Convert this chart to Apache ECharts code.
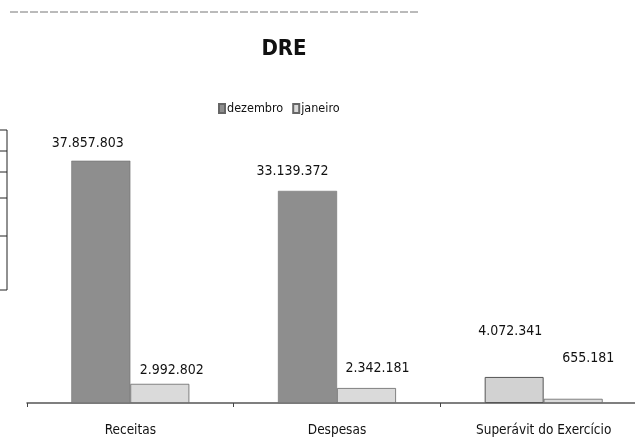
<!DOCTYPE html>
<html>
<head>
<meta charset="utf-8">
<script src="https://cdn.jsdelivr.net/npm/echarts@6/dist/echarts.min.js"></script>
<style>
  html, body { margin: 0; padding: 0; background: #fff; }
  #chart { width: 635px; height: 448px; }
</style>
</head>
<body>
<div id="chart"></div>
<script>
var categories = ['Receitas', 'Despesas', 'Superávit do Exercício']
var dezembro = [37857803, 33139372, 4072341]
var janeiro = [2992802, 2342181, 655181]

// labels in the original were dragged by hand, so nudge each one
var dezLabelShift = [[-13, -5], [-15, -8], [-4, -34]]
var janLabelShift = [[12, -1], [11, -8], [15, -28]]

function fmt(v) {
  return String(v).replace(/\B(?=(\d{3})+(?!\d))/g, '.')
}

var font = '"DejaVu Sans Condensed", "Liberation Sans", sans-serif'

var chart = echarts.init(document.getElementById('chart'))
chart.setOption({
  animation: false,
  title: {
    text: 'DRE',
    left: 279,
    top: 33,
    textAlign: 'center',
    textStyle: { fontFamily: font, fontWeight: 'bold', fontSize: 22, color: '#111' }
  },
  legend: {
    left: 213,
    top: 97,
    itemWidth: 6,
    itemHeight: 9,
    itemGap: 9,
    icon: 'rect',
    textStyle: { fontFamily: font, fontSize: 12.5, color: '#111', padding: [0, 0, 0, -3] },
    data: ['dezembro', 'janeiro']
  },
  grid: { left: 27, width: 620, top: 147, bottom: 45, outerBoundsMode: 'none', containLabel: false },
  xAxis: {
    type: 'category',
    data: categories,
    axisLine: { lineStyle: { color: '#555', width: 1.5 } },
    axisTick: { show: true, length: 4, lineStyle: { color: '#444' } },
    axisLabel: { interval: 0, margin: 20, fontFamily: font, fontSize: 13.5, color: '#111' }
  },
  yAxis: {
    type: 'value',
    min: 0,
    max: 40000000,
    show: false,
    splitLine: { show: false }
  },
  series: [
    {
      name: 'dezembro',
      type: 'bar',
      barWidth: 59,
      barGap: '0%',
      itemStyle: { color: '#8e8e8e', borderColor: '#666', borderWidth: 0.5 },
      label: {
        show: true,
        position: 'top',
        fontFamily: font,
        fontSize: 14,
        color: '#111',
        formatter: function (p) { return fmt(p.value) }
      },
      data: dezembro.map(function (v, i) {
        var item = { value: v, label: { offset: dezLabelShift[i] } }
        if (i === 2) item.itemStyle = { color: '#d2d2d2', borderColor: '#555', borderWidth: 1 }
        return item
      })
    },
    {
      name: 'janeiro',
      type: 'bar',
      barWidth: 59,
      itemStyle: { color: '#dadada', borderColor: '#666', borderWidth: 0.8 },
      label: {
        show: true,
        position: 'top',
        fontFamily: font,
        fontSize: 14,
        color: '#111',
        formatter: function (p) { return fmt(p.value) }
      },
      data: janeiro.map(function (v, i) {
        return { value: v, label: { offset: janLabelShift[i] } }
      })
    }
  ],
  graphic: [
    // scan remains: edge of a neighbouring table and the page rule on top
    { type: 'line', shape: { x1: 10, y1: 12, x2: 420, y2: 12 }, style: { stroke: '#777', lineWidth: 1, lineDash: [8, 2] } },
    { type: 'line', shape: { x1: 0, y1: 130, x2: 7, y2: 130 }, style: { stroke: '#222', lineWidth: 1 } },
    { type: 'line', shape: { x1: 0, y1: 151, x2: 7, y2: 151 }, style: { stroke: '#222', lineWidth: 1 } },
    { type: 'line', shape: { x1: 0, y1: 172, x2: 7, y2: 172 }, style: { stroke: '#222', lineWidth: 1 } },
    { type: 'line', shape: { x1: 0, y1: 198, x2: 7, y2: 198 }, style: { stroke: '#222', lineWidth: 1 } },
    { type: 'line', shape: { x1: 0, y1: 236, x2: 7, y2: 236 }, style: { stroke: '#222', lineWidth: 1 } },
    { type: 'line', shape: { x1: 0, y1: 290, x2: 7, y2: 290 }, style: { stroke: '#222', lineWidth: 1 } },
    { type: 'line', shape: { x1: 7, y1: 130, x2: 7, y2: 290 }, style: { stroke: '#222', lineWidth: 1 } }
  ]
})
</script>
</body>
</html>
